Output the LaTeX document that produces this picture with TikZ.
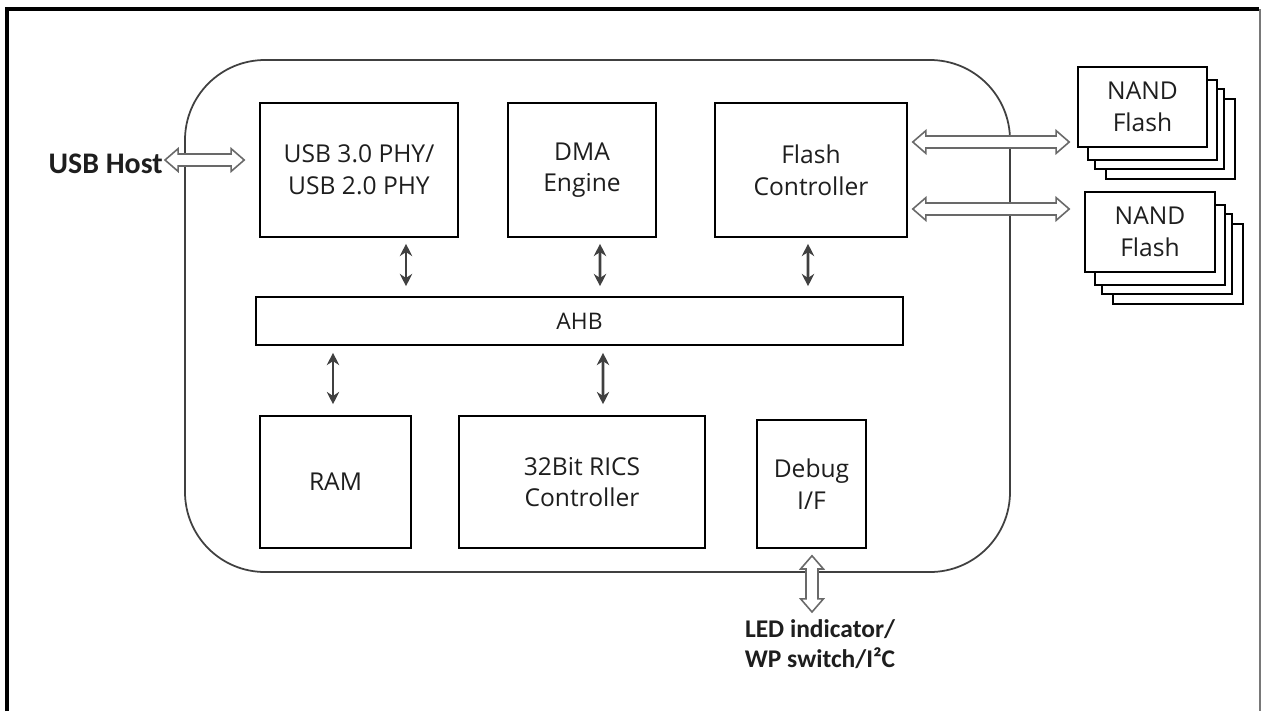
\documentclass[tikz,border=0pt]{standalone}
\usepackage{fontspec}
\setmainfont{Carlito}
\newfontfamily\boxfont{Open Sans}
\usepackage{tikz}
\usetikzlibrary{arrows.meta,positioning,calc}
\definecolor{textdark}{RGB}{30, 30, 30}
\definecolor{linegray}{RGB}{64, 64, 64}
\definecolor{arrowgray}{RGB}{105, 105, 105}
\definecolor{framegray}{RGB}{120, 120, 120}

\tikzset{
  blk/.style={draw=black, line width=0.9pt, fill=white, align=center, text=textdark,
    font=\boxfont\fontsize{14}{18}\selectfont, inner sep=0pt},
  stack/.style={draw=black, line width=0.9pt, fill=white},
  busarrow/.style={draw=linegray, line width=1.5pt,
    {Stealth[length=7pt,width=7pt]}-{Stealth[length=7pt,width=7pt]}},
  hollowarrow/.style={draw=arrowgray, fill=white, line width=0.9pt, line join=miter,
    to path={
      -- ($(\tikztostart)!7.5pt!(\tikztotarget)!6.5pt!90:(\tikztotarget)$)
      -- ($(\tikztostart)!7.5pt!(\tikztotarget)!3.4pt!90:(\tikztotarget)$)
      -- ($(\tikztotarget)!7.5pt!(\tikztostart)!3.4pt!-90:(\tikztostart)$)
      -- ($(\tikztotarget)!7.5pt!(\tikztostart)!6.5pt!-90:(\tikztostart)$)
      -- (\tikztotarget)
      -- ($(\tikztotarget)!7.5pt!(\tikztostart)!6.5pt!90:(\tikztostart)$)
      -- ($(\tikztotarget)!7.5pt!(\tikztostart)!3.4pt!90:(\tikztostart)$)
      -- ($(\tikztostart)!7.5pt!(\tikztotarget)!3.4pt!-90:(\tikztotarget)$)
      -- ($(\tikztostart)!7.5pt!(\tikztotarget)!6.5pt!-90:(\tikztotarget)$)
      -- cycle}},
}

\begin{document}
\begin{tikzpicture}[x=0.02cm, y=-0.02cm]
    \useasboundingbox (0,0) rectangle (1262,711);
    % page frame
    \draw[line width=2.2pt] (7,711) -- (7,9) -- (1259,9);
    \draw[framegray, line width=1pt] (1260,9) -- (1260,711);

    % controller chip
    \draw[linegray, line width=1pt, rounded corners=1.6cm] (185,60) rectangle (1010,572);

    \node[blk, minimum width=3.96cm, minimum height=2.68cm] (phy) at (359,170) {USB 3.0 PHY/\\USB 2.0 PHY};
    \node[blk, minimum width=2.96cm, minimum height=2.68cm] (dma) at (582,170) {DMA\\Engine};
    \node[blk, minimum width=3.84cm, minimum height=2.68cm] (fc) at (811,170) {Flash\\Controller};
    \node[blk, minimum width=12.94cm, minimum height=0.96cm, font=\boxfont\fontsize{13}{15}\selectfont] (ahb) at (579.5,321) {AHB};
    \node[blk, minimum width=3.02cm, minimum height=2.64cm] (ram) at (335.5,482) {RAM};
    \node[blk, minimum width=4.92cm, minimum height=2.64cm] (rics) at (582,482) {32Bit RICS\\Controller};
    \node[blk, minimum width=2.18cm, minimum height=2.56cm] (dbg) at (811.5,484) {Debug\\I/F};

    % NAND packages
    \foreach \dx/\dy in {28/32,17/22,10/13}
        \draw[stack] ($(1078,67)+(\dx,\dy)$) rectangle ++(129,80);
    \node[blk, minimum width=2.58cm, minimum height=1.6cm] (nand1) at (1142.5,107) {NAND\\Flash};
    \foreach \dx/\dy in {28/32,17/22,10/13}
        \draw[stack] ($(1085,192)+(\dx,\dy)$) rectangle ++(130,80);
    \node[blk, minimum width=2.6cm, minimum height=1.6cm] (nand2) at (1150,232) {NAND\\Flash};

    % outside labels
    \node[anchor=east, inner sep=0pt, text=textdark, font=\bfseries\fontsize{17}{20}\selectfont] (host) at (163,164) {USB Host};
    \node[anchor=north, inner sep=0pt, align=center, text=textdark, font=\bfseries\fontsize{14.5}{17.5}\selectfont] (led) at (820,619) {LED indicator/\\WP switch/I²C};

    % bus connections
    \draw[busarrow] ($(phy.south)+(47,6)$) -- ($(ahb.north)+(-173.5,-10)$);
    \draw[busarrow] ($(dma.south)+(18,6)$) -- ($(ahb.north)+(20.5,-10)$);
    \draw[busarrow] ($(fc.south)+(-3,6)$) -- ($(ahb.north)+(228.5,-10)$);
    \draw[busarrow] ($(ahb.south)+(-246.5,7)$) -- ($(ram.north)+(-2.5,-11)$);
    \draw[busarrow] ($(ahb.south)+(23.5,7)$) -- ($(rics.north)+(21,-11)$);

    % external interfaces
    \draw[hollowarrow] ($(host.east)+(2,-4)$) to ($(phy.west)+(-15,-10)$);
    \draw[hollowarrow] ($(fc.east)+(5,-28)$) to ($(nand1.west)+(-8,35)$);
    \draw[hollowarrow] ($(fc.east)+(5,39)$) to ($(nand2.west)+(-15,-23)$);
    \draw[hollowarrow] ($(dbg.south)+(0.5,7)$) to ($(led.north)+(-8,-7)$);
\end{tikzpicture}
\end{document}
